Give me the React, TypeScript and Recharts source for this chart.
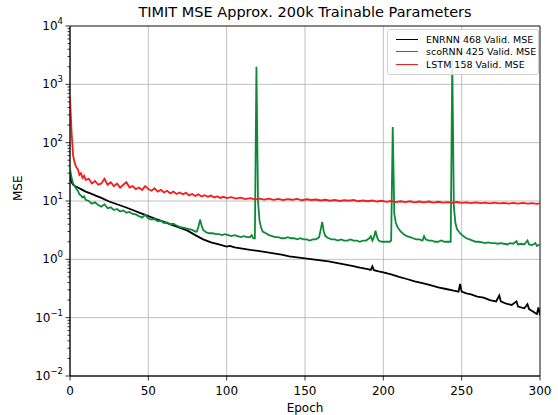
import { LineChart, Line, XAxis, YAxis, CartesianGrid, ReferenceArea } from 'recharts';

// ENRNN 468 (black)
const enrnnEpochs = [0, 1, 2, 3, 4, 5, 7, 10, 13, 16, 20, 25, 30, 35, 40, 45, 50, 55, 60, 65, 70, 75, 80, 85, 90, 95, 100, 102, 105, 110, 115, 120, 125, 130, 135, 140, 145, 150, 155, 160, 165, 170, 175, 180, 185, 190, 192, 193, 194, 197, 200, 205, 210, 215, 220, 225, 230, 235, 240, 245, 248, 249, 250, 253, 256, 260, 264, 268, 272, 274, 275, 278, 282, 285, 286, 290, 292, 293, 296, 298, 299, 300];
const enrnnMse = [30, 21, 19, 18, 17.5, 17, 16, 14.5, 13.5, 12.5, 11.3, 9.8, 8.8, 7.9, 7, 6.2, 5.5, 4.9, 4.4, 3.9, 3.5, 3.1, 2.6, 2.2, 1.95, 1.8, 1.65, 1.7, 1.6, 1.52, 1.45, 1.4, 1.33, 1.27, 1.2, 1.12, 1.08, 1.04, 1.0, 0.96, 0.92, 0.87, 0.82, 0.77, 0.72, 0.68, 0.66, 0.76, 0.65, 0.62, 0.6, 0.55, 0.5, 0.46, 0.42, 0.39, 0.36, 0.33, 0.31, 0.29, 0.28, 0.38, 0.28, 0.26, 0.25, 0.23, 0.22, 0.2, 0.19, 0.24, 0.19, 0.175, 0.165, 0.19, 0.155, 0.145, 0.17, 0.14, 0.125, 0.115, 0.15, 0.11];

// scoRNN 425 (green)
const scornnEpochs = [0, 1, 2, 3, 4, 5, 6, 7, 8, 9, 10, 12, 14, 16, 18, 20, 22, 24, 26, 28, 30, 32, 34, 36, 38, 40, 42, 44, 46, 48, 50, 52, 54, 56, 58, 60, 62, 64, 66, 68, 70, 72, 74, 76, 78, 80, 81, 82, 83, 84, 85, 87, 89, 91, 93, 95, 97, 99, 101, 103, 105, 107, 109, 111, 113, 115, 116, 117, 118, 119, 120, 121, 122, 123, 125, 127, 129, 131, 133, 135, 137, 139, 141, 143, 145, 147, 149, 151, 153, 155, 157, 159, 160, 161, 162, 163, 165, 167, 169, 171, 173, 175, 177, 179, 181, 183, 185, 187, 189, 191, 192, 193, 194, 195, 196, 197, 199, 201, 203, 204, 205, 206, 207, 208, 209, 211, 213, 215, 217, 219, 221, 223, 225, 226, 227, 229, 231, 233, 235, 237, 239, 241, 242, 243, 244, 245, 246, 247, 249, 251, 253, 255, 257, 259, 261, 263, 265, 267, 269, 271, 273, 275, 277, 279, 281, 283, 285, 286, 288, 290, 292, 293, 295, 297, 298, 300];
const scornnMse = [36, 25, 20, 18, 16, 15, 13, 12.5, 11.5, 12, 10.5, 10, 9, 9.5, 8.5, 8, 8.8, 7.5, 7.8, 7, 7.3, 6.6, 6.9, 6.3, 6.5, 6, 5.9, 5.5, 5.2, 5.8, 5.0, 4.8, 4.9, 4.5, 4.6, 4.2, 4.3, 4.0, 4.1, 3.8, 3.6, 3.5, 3.4, 3.3, 3.2, 3.0, 3.0, 3.6, 4.8, 3.8, 3.2, 2.9, 2.8, 2.8, 2.7, 2.7, 2.6, 2.7, 2.6, 2.5, 2.6, 2.5, 2.4, 2.5, 2.4, 2.4, 2.6, 2.3, 2.3, 2000, 10, 4.5, 3.5, 3.0, 2.8, 2.6, 2.5, 2.4, 2.4, 2.3, 2.3, 2.4, 2.3, 2.3, 2.2, 2.3, 2.2, 2.2, 2.1, 2.2, 2.2, 2.4, 3.2, 4.4, 3.0, 2.5, 2.3, 2.2, 2.2, 2.1, 2.2, 2.1, 2.1, 2.2, 2.1, 2.1, 2.0, 2.1, 2.1, 2.3, 2.5, 2.1, 2.4, 3.1, 2.4, 2.1, 2.0, 2.0, 2.0, 2.0, 2.1, 185, 6, 4.2, 3.6, 3.0, 2.7, 2.5, 2.4, 2.3, 2.2, 2.2, 2.1, 2.5, 2.2, 2.1, 2.1, 2.0, 2.0, 2.1, 2.0, 2.0, 2.0, 2.0, 2600, 8, 4.2, 3.3, 2.8, 2.5, 2.3, 2.2, 2.1, 2.0, 2.0, 1.95, 1.9, 1.95, 1.9, 1.9, 1.85, 1.9, 1.85, 1.8, 1.9, 1.85, 2.05, 1.8, 1.85, 1.8, 2.1, 1.8, 1.75, 1.9, 1.7, 1.8];

// LSTM 158 (red)
const lstmEpochs = [0, 1, 2, 3, 4, 5, 6, 7, 8, 9, 10, 12, 14, 16, 18, 20, 22, 24, 26, 28, 30, 32, 34, 36, 38, 40, 42, 44, 46, 48, 50, 52, 54, 56, 58, 60, 62, 64, 66, 68, 70, 72, 74, 76, 78, 80, 82, 84, 86, 88, 90, 92, 94, 96, 98, 100, 103, 106, 109, 112, 115, 118, 121, 124, 127, 130, 133, 136, 139, 142, 145, 148, 151, 154, 157, 160, 163, 166, 169, 172, 175, 178, 181, 184, 187, 190, 193, 196, 199, 202, 205, 208, 211, 214, 217, 220, 223, 226, 229, 232, 235, 238, 241, 244, 247, 250, 253, 256, 259, 262, 265, 268, 271, 274, 277, 280, 283, 286, 289, 292, 295, 298, 300];
const lstmMse = [600, 150, 60, 45, 38, 35, 28, 30, 25, 27, 23, 24, 20, 22, 19, 20, 24, 19, 21, 18, 20, 17, 19, 21, 17, 18, 16, 17, 15.5, 18, 16, 15, 16.5, 14.5, 15.5, 14, 15, 13.5, 14.5, 13.2, 14, 13, 13.8, 12.5, 13.2, 12.2, 13, 12, 12.6, 11.8, 12.4, 11.5, 12, 11.3, 11.8, 11.2, 11.6, 11, 11.4, 10.8, 11.2, 10.7, 11, 10.6, 11, 10.5, 10.9, 10.4, 10.8, 10.5, 10.9, 10.3, 10.7, 10.4, 10.6, 10.2, 10.5, 10.1, 10.4, 10, 10.3, 10.1, 10.4, 9.9, 10.2, 9.9, 10.2, 9.8, 10.1, 9.7, 10, 9.6, 9.9, 9.6, 9.9, 9.5, 9.8, 9.5, 9.8, 9.4, 9.7, 9.4, 9.6, 9.3, 9.6, 9.3, 9.5, 9.2, 9.5, 9.2, 9.4, 9.1, 9.4, 9.1, 9.3, 9.0, 9.3, 9.0, 9.3, 9.0, 9.2, 8.9, 9.1];

const xTicks = [0, 50, 100, 150, 200, 250, 300];
const yMajor = [0.01, 0.1, 1, 10, 100, 1000, 10000];
const yExponents = ['−2', '−1', '0', '1', '2', '3', '4'];
const yMinor = yMajor.slice(0, -1).flatMap((d) => [2, 3, 4, 5, 6, 7, 8, 9].map((m) => d * m));
const yTicks = [...yMajor, ...yMinor].sort((a, b) => a - b);

const enrnn = enrnnEpochs.map((e, i) => ({ epoch: e, mse: enrnnMse[i] }));
const scornn = scornnEpochs.map((e, i) => ({ epoch: e, mse: scornnMse[i] }));
const lstm = lstmEpochs.map((e, i) => ({ epoch: e, mse: lstmMse[i] }));

const FONT = 'DejaVu Sans, sans-serif';
const LEFT = 70;

const legendItems = [
  { name: 'ENRNN 468 Valid. MSE', color: '#000000' },
  { name: 'scoRNN 425 Valid. MSE', color: '#0d8a38' },
  { name: 'LSTM 158 Valid. MSE', color: '#f41d1d' },
];

function YTick(props: any) {
  const { y, payload } = props;
  const idx = yMajor.findIndex((v) => Math.abs(v - payload.value) / v < 1e-6);
  const major = idx >= 0;
  return (
    <g>
      <line x1={LEFT} x2={LEFT - (major ? 4.5 : 2.5)} y1={y} y2={y} stroke="#000" strokeWidth={0.8} />
      {major && (
        <text x={LEFT - 7} y={y + 4} textAnchor="end" fontSize={12} fontFamily={FONT} fill="#000">
          10
          <tspan dy={-6} fontSize={8.5}>{yExponents[idx]}</tspan>
        </text>
      )}
    </g>
  );
}

export default function App() {
  return (
    <div style={{ position: 'absolute', left: 0, top: 0, width: 558, height: 415, background: '#fff' }}>
      <LineChart width={558} height={415} margin={{ top: 26, right: 18, bottom: 0, left: 0 }}>
        <text x={305} y={17} textAnchor="middle" fontSize={14.5} fontFamily={FONT} fill="#000">
          TIMIT MSE Approx. 200k Trainable Parameters
        </text>
        <CartesianGrid
          stroke="#b0b0b0"
          strokeWidth={0.8}
          horizontalValues={yMajor}
          verticalValues={xTicks}
        />
        <XAxis
          type="number"
          dataKey="epoch"
          domain={[0, 300]}
          ticks={xTicks}
          height={39}
          allowDataOverflow
          tickSize={4.5}
          tickMargin={6}
          axisLine={{ stroke: '#000', strokeWidth: 0.8 }}
          tickLine={{ stroke: '#000', strokeWidth: 0.8 }}
          tick={{ fontSize: 12, fontFamily: FONT, fill: '#000' }}
          label={{ value: 'Epoch', position: 'insideBottom', offset: 3, fontSize: 12, fontFamily: FONT, fill: '#000' }}
        />
        <YAxis
          type="number"
          scale="log"
          domain={[0.01, 10000]}
          allowDataOverflow
          ticks={yTicks}
          interval={0}
          width={LEFT}
          tickLine={false}
          axisLine={{ stroke: '#000', strokeWidth: 0.8 }}
          tick={<YTick />}
          label={{ value: 'MSE', angle: -90, position: 'insideLeft', offset: 18, fontSize: 12, fontFamily: FONT, fill: '#000' }}
        />
        <ReferenceArea x1={0} x2={300} y1={0.01} y2={10000} fill="none" stroke="#000" strokeWidth={0.8} ifOverflow="visible" />
        <Line data={enrnn} dataKey="mse" type="linear" stroke="#000000" strokeWidth={1.8} dot={false} isAnimationActive={false} />
        <Line data={scornn} dataKey="mse" type="linear" stroke="#0d8a38" strokeWidth={1.8} dot={false} isAnimationActive={false} />
        <Line data={lstm} dataKey="mse" type="linear" stroke="#f41d1d" strokeWidth={1.8} dot={false} isAnimationActive={false} />
      </LineChart>
      <div
        style={{
          position: 'absolute',
          left: 387,
          top: 29,
          width: 150,
          padding: '3px 0',
          border: '1px solid #d0d0d0',
          borderRadius: 3,
          background: 'rgba(255,255,255,0.85)',
          fontFamily: FONT,
          fontSize: 9.5,
          color: '#000',
        }}
      >
        {legendItems.map((it) => (
          <div key={it.name} style={{ display: 'flex', alignItems: 'center', height: 12.5 }}>
            <span style={{ display: 'inline-block', width: 22, height: 0, borderTop: `1.8px solid ${it.color}`, marginLeft: 8, marginRight: 8 }} />
            <span>{it.name}</span>
          </div>
        ))}
      </div>
    </div>
  );
}
